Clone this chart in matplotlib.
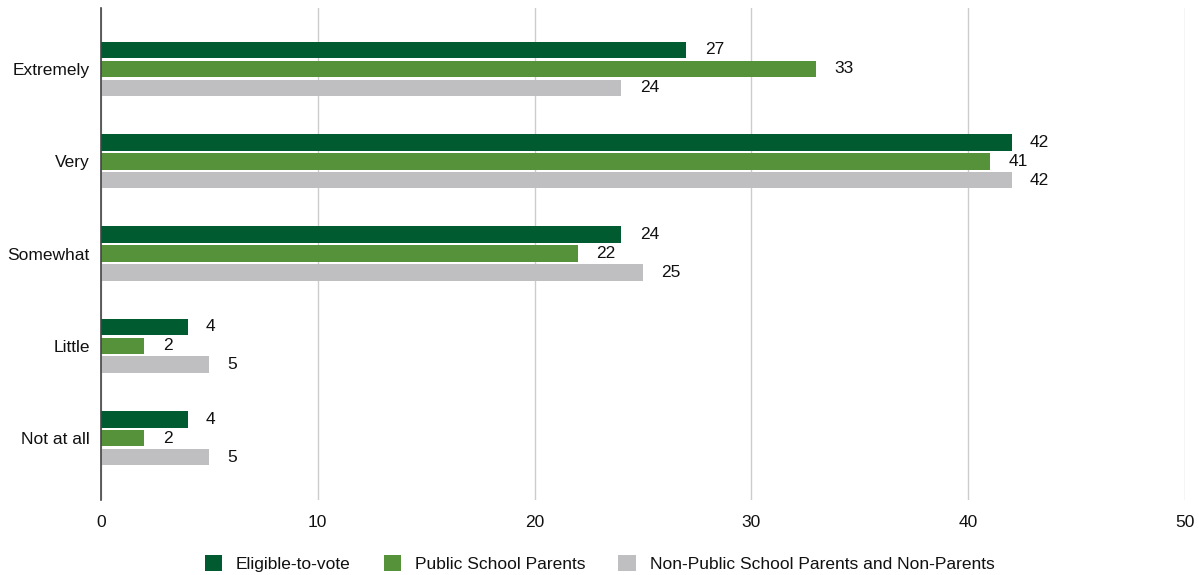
import matplotlib.pyplot as plt
import numpy as np

plt.rcParams['font.family'] = ['Liberation Sans', 'DejaVu Sans']

categories = ['Extremely', 'Very', 'Somewhat', 'Little', 'Not at all']
series_names = ['Eligible-to-vote', 'Public School Parents',
                'Non-Public School Parents and Non-Parents']
eligible = [27, 42, 24, 4, 4]
public_parents = [33, 41, 22, 2, 2]
non_public = [24, 42, 25, 5, 5]
colors = ['#005b30', '#56923a', '#bfbfc1']

fig = plt.figure(figsize=(11.99, 5.75), dpi=100)
ax = fig.add_axes([0.0842, 0.1304, 0.9041, 0.8557])

y = np.arange(len(categories))
offset = 0.205
height = 0.18
for k, (vals, name, c) in enumerate(zip([eligible, public_parents, non_public], series_names, colors)):
    pos = y + (k - 1) * offset
    ax.barh(pos, vals, height=height, color=c, label=name, zorder=3)
    for p, v in zip(pos, vals):
        ax.text(v + 0.85, p, str(v), va='center', ha='left', fontsize=12.5, color='#111111')

ax.set_xlim(0, 50)
ax.set_ylim(len(categories) - 1 + 0.67, -0.66)
ax.set_yticks(y)
ax.set_yticklabels(categories, fontsize=12.5, color='#111111')
ax.set_xticks(np.arange(0, 51, 10))
ax.tick_params(axis='x', labelsize=12.5, labelcolor='#111111', length=0, pad=11)
ax.tick_params(axis='y', length=0, pad=8)
ax.grid(axis='x', color='#cccccc', linewidth=1, zorder=0)
for s in ['top', 'right', 'bottom']:
    ax.spines[s].set_visible(False)
ax.spines['left'].set_color('#444444')
ax.spines['left'].set_linewidth(1.2)
ax.spines['left'].set_zorder(4)

leg = fig.legend(loc='lower center', bbox_to_anchor=(0.5, -0.022), ncol=3, frameon=False,
                 fontsize=12.5, handlelength=1.0, handleheight=1.1, columnspacing=1.9,
                 handletextpad=0.8)
for t in leg.get_texts():
    t.set_color('#111111')

fig.savefig('out.png', dpi=100)
